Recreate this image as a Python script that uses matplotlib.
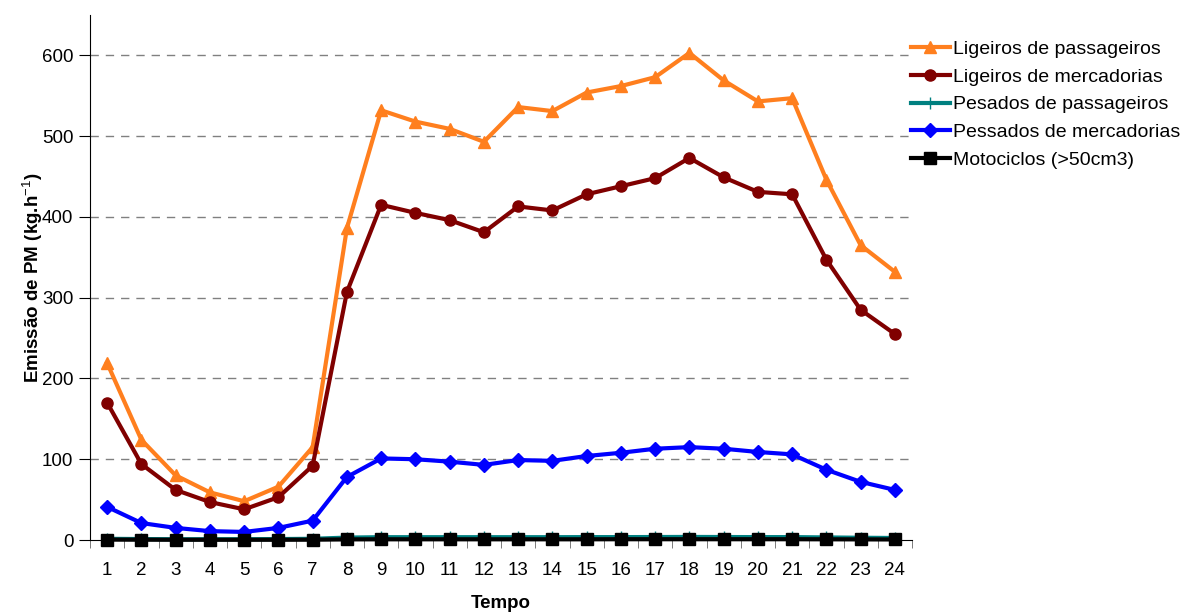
import numpy as np
import matplotlib.pyplot as plt

plt.rcParams['font.family'] = ['Liberation Sans', 'DejaVu Sans']
plt.rcParams['mathtext.fontset'] = 'custom'
plt.rcParams['mathtext.rm'] = 'Liberation Sans'
plt.rcParams['mathtext.bf'] = 'Liberation Sans:bold'

horas = list(range(1, 25))

lig_pass = [219, 124, 80, 59, 48, 66, 115, 386, 532, 518, 509, 493,
            536, 531, 554, 562, 573, 603, 569, 543, 547, 446, 365, 332]
lig_merc = [170, 94, 62, 47, 38, 53, 92, 307, 415, 405, 396, 381,
            413, 408, 428, 438, 448, 473, 449, 431, 428, 347, 285, 255]
pes_pass = [1.5, 1.2, 1.0, 1.0, 1.0, 1.2, 1.5, 3.0, 3.5, 3.5, 3.5, 3.5,
            3.5, 3.5, 3.6, 3.6, 3.7, 3.8, 3.7, 3.6, 3.6, 3.2, 2.8, 2.5]
pes_merc = [41, 21, 15, 11, 10, 15, 24, 78, 101, 100, 97, 93,
            99, 98, 104, 108, 113, 115, 113, 109, 106, 87, 72, 62]
motos = [0.5, 0.4, 0.3, 0.3, 0.3, 0.3, 0.4, 0.8, 0.9, 0.9, 0.9, 0.9,
         0.9, 0.9, 0.9, 1.0, 1.0, 1.0, 1.0, 1.0, 1.0, 0.9, 0.8, 0.7]

series = [
    ('Ligeiros de passageiros', lig_pass, '#ff7f1e', '^', 9),
    ('Ligeiros de mercadorias', lig_merc, '#800000', 'o', 8),
    ('Pesados de passageiros', pes_pass, '#008080', '+', 8),
    ('Pessados de mercadorias', pes_merc, '#0000ff', 'D', 7),
    ('Motociclos (>50cm3)', motos, '#000000', 's', 8),
]

fig = plt.figure(figsize=(11.8, 6.14), dpi=100)
ax = fig.add_axes([0.0763, 0.1205, 0.6966, 0.8551])

for nome, vals, cor, mk, ms in series:
    ax.plot(horas, vals, color=cor, marker=mk, markersize=ms, linewidth=3,
            label=nome, markeredgecolor=cor, clip_on=False, zorder=3)

ax.set_xlim(0.5, 24.5)
ax.set_ylim(0, 650)
ax.set_yticks([0, 100, 200, 300, 400, 500, 600])
ax.set_xticks(horas)
ax.set_xticks(np.arange(0.5, 25, 1), minor=True)
ax.tick_params(axis='x', which='major', length=0, pad=16, labelsize=13.5)
ax.tick_params(axis='x', which='minor', length=6, direction='out', color='#666666')
ax.tick_params(axis='y', length=8, direction='out', labelsize=13.5, pad=4)

for y in range(100, 601, 100):
    ax.axhline(y, color='#808080', linestyle=(0, (6, 5)), linewidth=1, zorder=1)

for s in ['top', 'right']:
    ax.spines[s].set_visible(False)

ax.set_xlabel('Tempo', fontsize=13.5, fontweight='bold', labelpad=11)
ax.set_ylabel('Emissão de PM (kg.h$^{\\mathrm{-1}}$)', fontsize=13.5, fontweight='bold', labelpad=-2)

leg = ax.legend(loc='upper left', bbox_to_anchor=(0.977, 0.985), frameon=False,
                fontsize=14, handlelength=2.0, handletextpad=0.2, labelspacing=0.52)

fig.savefig('out.png', dpi=100)
